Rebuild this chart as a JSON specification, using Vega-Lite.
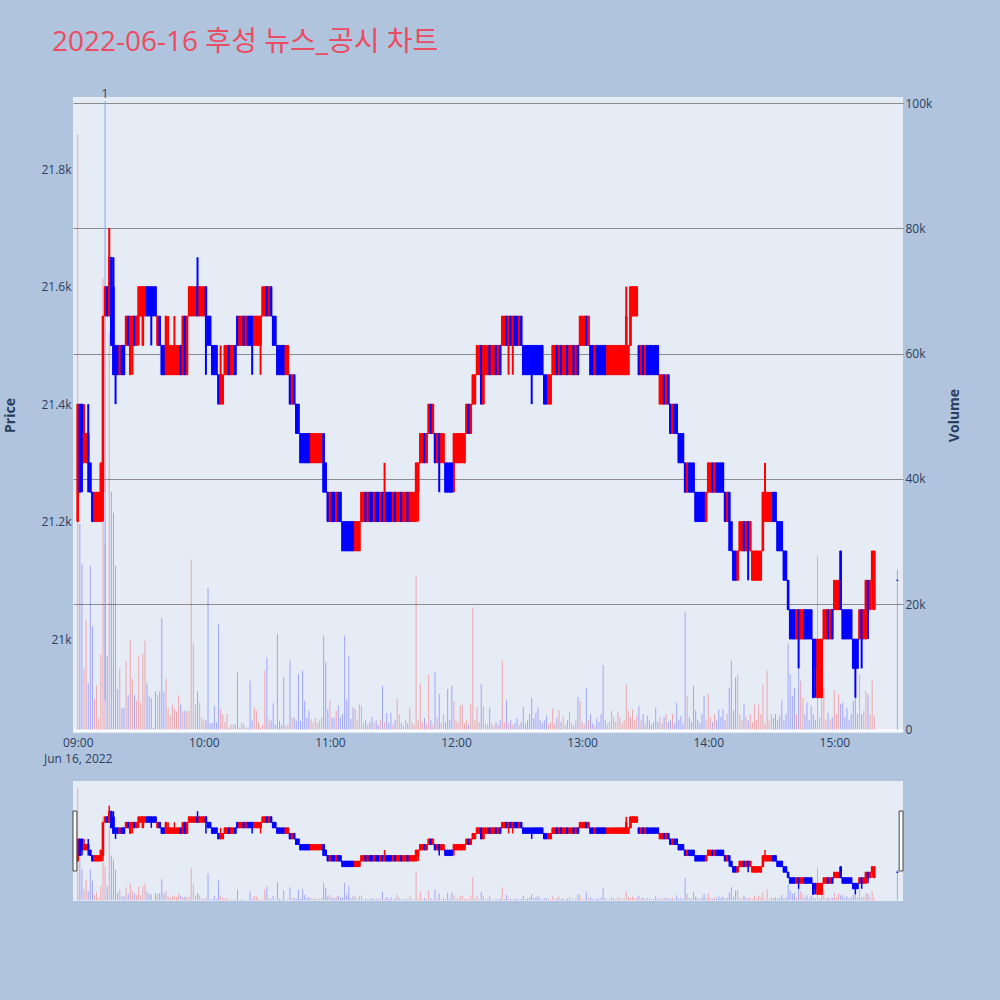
{
"$schema": "https://vega.github.io/schema/vega-lite/v6.json",
"background": "#b0c4de",
"padding": {"left": 3, "top": 29, "right": 45, "bottom": 105},
"title": {"text": "2022-06-16 후성 뉴스_공시 차트", "anchor": "start", "frame": "group", "dx": -21, "offset": 31, "fontSize": 28, "font": "Open Sans, Noto Sans CJK KR", "fontWeight": "normal", "color": "#ea4c63"},
"data": {"format": {"parse": {"t": "date:'%H:%M'"}}, "values": [
{"t":"09:00","o":21200,"h":21400,"l":21200,"c":21400,"v":95000},
{"t":"09:01","o":21400,"h":21400,"l":21250,"c":21250,"v":32800},
{"t":"09:02","o":21400,"h":21400,"l":21250,"c":21300,"v":26400},
{"t":"09:03","o":21300,"h":21400,"l":21300,"c":21350,"v":9700},
{"t":"09:04","o":21300,"h":21350,"l":21300,"c":21350,"v":17500},
{"t":"09:05","o":21350,"h":21400,"l":21250,"c":21300,"v":7400},
{"t":"09:06","o":21300,"h":21300,"l":21250,"c":21250,"v":26100},
{"t":"09:07","o":21250,"h":21250,"l":21200,"c":21200,"v":16500},
{"t":"09:08","o":21200,"h":21250,"l":21200,"c":21250,"v":4900},
{"t":"09:09","o":21200,"h":21250,"l":21200,"c":21250,"v":7100},
{"t":"09:10","o":21200,"h":21250,"l":21200,"c":21250,"v":1800},
{"t":"09:11","o":21200,"h":21300,"l":21200,"c":21300,"v":12000},
{"t":"09:12","o":21250,"h":21550,"l":21200,"c":21550,"v":72000},
{"t":"09:13","o":21550,"h":21600,"l":21550,"c":21600,"v":29400},
{"t":"09:14","o":21600,"h":21600,"l":21550,"c":21550,"v":11800},
{"t":"09:15","o":21550,"h":21700,"l":21550,"c":21650,"v":63400},
{"t":"09:16","o":21650,"h":21650,"l":21500,"c":21500,"v":38000},
{"t":"09:17","o":21600,"h":21650,"l":21450,"c":21450,"v":34600},
{"t":"09:18","o":21500,"h":21500,"l":21400,"c":21450,"v":26200},
{"t":"09:19","o":21500,"h":21500,"l":21450,"c":21450,"v":6500},
{"t":"09:20","o":21450,"h":21500,"l":21450,"c":21500,"v":9700},
{"t":"09:21","o":21500,"h":21500,"l":21450,"c":21450,"v":3400},
{"t":"09:22","o":21500,"h":21500,"l":21450,"c":21450,"v":3400},
{"t":"09:23","o":21500,"h":21550,"l":21500,"c":21550,"v":10900},
{"t":"09:24","o":21550,"h":21550,"l":21500,"c":21500,"v":5500},
{"t":"09:25","o":21450,"h":21550,"l":21450,"c":21550,"v":14300},
{"t":"09:26","o":21500,"h":21550,"l":21450,"c":21550,"v":8100},
{"t":"09:27","o":21550,"h":21550,"l":21500,"c":21500,"v":5500},
{"t":"09:28","o":21500,"h":21550,"l":21500,"c":21550,"v":4600},
{"t":"09:29","o":21550,"h":21600,"l":21500,"c":21600,"v":11800},
{"t":"09:30","o":21550,"h":21600,"l":21550,"c":21600,"v":4300},
{"t":"09:31","o":21500,"h":21600,"l":21500,"c":21600,"v":12100},
{"t":"09:32","o":21550,"h":21600,"l":21550,"c":21600,"v":14200},
{"t":"09:33","o":21600,"h":21600,"l":21550,"c":21550,"v":7400},
{"t":"09:34","o":21600,"h":21600,"l":21550,"c":21550,"v":5300},
{"t":"09:35","o":21600,"h":21600,"l":21500,"c":21550,"v":5000},
{"t":"09:36","o":21600,"h":21600,"l":21550,"c":21550,"v":300},
{"t":"09:37","o":21600,"h":21600,"l":21550,"c":21550,"v":6100},
{"t":"09:38","o":21500,"h":21550,"l":21500,"c":21550,"v":5500},
{"t":"09:39","o":21550,"h":21550,"l":21500,"c":21500,"v":6100},
{"t":"09:40","o":21500,"h":21500,"l":21450,"c":21450,"v":17800},
{"t":"09:41","o":21500,"h":21500,"l":21450,"c":21450,"v":6100},
{"t":"09:42","o":21450,"h":21550,"l":21450,"c":21550,"v":8100},
{"t":"09:43","o":21450,"h":21550,"l":21450,"c":21500,"v":3400},
{"t":"09:44","o":21450,"h":21500,"l":21450,"c":21500,"v":2300},
{"t":"09:45","o":21450,"h":21500,"l":21450,"c":21500,"v":4000},
{"t":"09:46","o":21450,"h":21550,"l":21450,"c":21500,"v":3400},
{"t":"09:47","o":21450,"h":21500,"l":21450,"c":21500,"v":2900},
{"t":"09:48","o":21450,"h":21500,"l":21450,"c":21500,"v":5500},
{"t":"09:49","o":21500,"h":21500,"l":21450,"c":21450,"v":4000},
{"t":"09:50","o":21450,"h":21550,"l":21450,"c":21550,"v":2900},
{"t":"09:51","o":21550,"h":21550,"l":21450,"c":21450,"v":3000},
{"t":"09:52","o":21450,"h":21550,"l":21450,"c":21550,"v":2900},
{"t":"09:53","o":21550,"h":21600,"l":21550,"c":21600,"v":3000},
{"t":"09:54","o":21550,"h":21600,"l":21550,"c":21600,"v":27100},
{"t":"09:55","o":21550,"h":21600,"l":21550,"c":21600,"v":13800},
{"t":"09:56","o":21550,"h":21600,"l":21550,"c":21600,"v":4000},
{"t":"09:57","o":21600,"h":21650,"l":21550,"c":21550,"v":6100},
{"t":"09:58","o":21550,"h":21600,"l":21550,"c":21600,"v":4300},
{"t":"09:59","o":21550,"h":21600,"l":21550,"c":21600,"v":1800},
{"t":"10:00","o":21550,"h":21600,"l":21550,"c":21600,"v":1400},
{"t":"10:01","o":21600,"h":21600,"l":21450,"c":21550,"v":1500},
{"t":"10:02","o":21550,"h":21550,"l":21500,"c":21500,"v":22600},
{"t":"10:03","o":21550,"h":21550,"l":21500,"c":21500,"v":1000},
{"t":"10:04","o":21500,"h":21500,"l":21450,"c":21450,"v":1000},
{"t":"10:05","o":21500,"h":21500,"l":21450,"c":21450,"v":3800},
{"t":"10:06","o":21500,"h":21500,"l":21450,"c":21450,"v":1200},
{"t":"10:07","o":21450,"h":21450,"l":21400,"c":21400,"v":16800},
{"t":"10:08","o":21400,"h":21500,"l":21400,"c":21450,"v":3300},
{"t":"10:09","o":21400,"h":21450,"l":21400,"c":21450,"v":2500},
{"t":"10:10","o":21450,"h":21500,"l":21450,"c":21500,"v":1200},
{"t":"10:11","o":21450,"h":21500,"l":21450,"c":21500,"v":2500},
{"t":"10:12","o":21500,"h":21500,"l":21450,"c":21450,"v":300},
{"t":"10:13","o":21450,"h":21500,"l":21450,"c":21500,"v":800},
{"t":"10:14","o":21450,"h":21500,"l":21450,"c":21500,"v":800},
{"t":"10:15","o":21500,"h":21500,"l":21450,"c":21450,"v":800},
{"t":"10:16","o":21550,"h":21550,"l":21500,"c":21500,"v":9100},
{"t":"10:17","o":21500,"h":21550,"l":21500,"c":21550,"v":300},
{"t":"10:18","o":21500,"h":21550,"l":21500,"c":21550,"v":1100},
{"t":"10:19","o":21550,"h":21550,"l":21500,"c":21500,"v":800},
{"t":"10:20","o":21500,"h":21550,"l":21500,"c":21550,"v":300},
{"t":"10:21","o":21550,"h":21550,"l":21500,"c":21500,"v":300},
{"t":"10:22","o":21550,"h":21550,"l":21500,"c":21500,"v":7800},
{"t":"10:23","o":21550,"h":21550,"l":21450,"c":21500,"v":1400},
{"t":"10:24","o":21500,"h":21550,"l":21500,"c":21550,"v":3600},
{"t":"10:25","o":21500,"h":21550,"l":21500,"c":21550,"v":3000},
{"t":"10:26","o":21500,"h":21550,"l":21500,"c":21550,"v":1200},
{"t":"10:27","o":21500,"h":21550,"l":21450,"c":21550,"v":300},
{"t":"10:28","o":21550,"h":21600,"l":21550,"c":21600,"v":800},
{"t":"10:29","o":21550,"h":21600,"l":21550,"c":21600,"v":9400},
{"t":"10:30","o":21600,"h":21600,"l":21550,"c":21550,"v":11500},
{"t":"10:31","o":21550,"h":21600,"l":21550,"c":21600,"v":1700},
{"t":"10:32","o":21600,"h":21600,"l":21550,"c":21550,"v":1400},
{"t":"10:33","o":21550,"h":21550,"l":21500,"c":21500,"v":4200},
{"t":"10:34","o":21550,"h":21550,"l":21500,"c":21500,"v":800},
{"t":"10:35","o":21500,"h":21500,"l":21450,"c":21450,"v":15300},
{"t":"10:36","o":21500,"h":21500,"l":21450,"c":21450,"v":1400},
{"t":"10:37","o":21500,"h":21500,"l":21450,"c":21450,"v":800},
{"t":"10:38","o":21500,"h":21500,"l":21450,"c":21450,"v":8400},
{"t":"10:39","o":21450,"h":21500,"l":21450,"c":21500,"v":600},
{"t":"10:40","o":21450,"h":21500,"l":21450,"c":21500,"v":800},
{"t":"10:41","o":21450,"h":21450,"l":21400,"c":21400,"v":11000},
{"t":"10:42","o":21400,"h":21450,"l":21400,"c":21450,"v":1900},
{"t":"10:43","o":21450,"h":21450,"l":21400,"c":21400,"v":1900},
{"t":"10:44","o":21400,"h":21400,"l":21350,"c":21350,"v":1400},
{"t":"10:45","o":21400,"h":21400,"l":21350,"c":21350,"v":8900},
{"t":"10:46","o":21350,"h":21350,"l":21300,"c":21300,"v":1400},
{"t":"10:47","o":21350,"h":21350,"l":21300,"c":21300,"v":9400},
{"t":"10:48","o":21350,"h":21350,"l":21300,"c":21300,"v":4600},
{"t":"10:49","o":21350,"h":21350,"l":21300,"c":21300,"v":1900},
{"t":"10:50","o":21350,"h":21350,"l":21300,"c":21300,"v":3000},
{"t":"10:51","o":21300,"h":21350,"l":21300,"c":21350,"v":1700},
{"t":"10:52","o":21300,"h":21350,"l":21300,"c":21350,"v":1100},
{"t":"10:53","o":21300,"h":21350,"l":21300,"c":21350,"v":1900},
{"t":"10:54","o":21300,"h":21350,"l":21300,"c":21350,"v":1100},
{"t":"10:55","o":21300,"h":21350,"l":21300,"c":21350,"v":1400},
{"t":"10:56","o":21300,"h":21350,"l":21300,"c":21350,"v":1900},
{"t":"10:57","o":21350,"h":21350,"l":21250,"c":21250,"v":14900},
{"t":"10:58","o":21300,"h":21300,"l":21250,"c":21250,"v":10700},
{"t":"10:59","o":21250,"h":21250,"l":21200,"c":21200,"v":3200},
{"t":"11:00","o":21200,"h":21250,"l":21200,"c":21250,"v":4600},
{"t":"11:01","o":21250,"h":21250,"l":21200,"c":21200,"v":1900},
{"t":"11:02","o":21250,"h":21250,"l":21200,"c":21200,"v":1900},
{"t":"11:03","o":21200,"h":21250,"l":21200,"c":21250,"v":3000},
{"t":"11:04","o":21250,"h":21250,"l":21200,"c":21200,"v":3800},
{"t":"11:05","o":21250,"h":21250,"l":21200,"c":21200,"v":1900},
{"t":"11:06","o":21200,"h":21200,"l":21150,"c":21150,"v":2500},
{"t":"11:07","o":21200,"h":21200,"l":21150,"c":21150,"v":15000},
{"t":"11:08","o":21200,"h":21200,"l":21150,"c":21150,"v":4800},
{"t":"11:09","o":21200,"h":21200,"l":21150,"c":21150,"v":11800},
{"t":"11:10","o":21200,"h":21200,"l":21150,"c":21150,"v":1700},
{"t":"11:11","o":21200,"h":21200,"l":21150,"c":21150,"v":3500},
{"t":"11:12","o":21150,"h":21200,"l":21150,"c":21200,"v":3300},
{"t":"11:13","o":21150,"h":21200,"l":21150,"c":21200,"v":1500},
{"t":"11:14","o":21150,"h":21200,"l":21150,"c":21200,"v":4000},
{"t":"11:15","o":21200,"h":21250,"l":21200,"c":21250,"v":3800},
{"t":"11:16","o":21200,"h":21250,"l":21200,"c":21250,"v":1000},
{"t":"11:17","o":21250,"h":21250,"l":21200,"c":21200,"v":1500},
{"t":"11:18","o":21200,"h":21250,"l":21200,"c":21250,"v":800},
{"t":"11:19","o":21250,"h":21250,"l":21200,"c":21200,"v":1200},
{"t":"11:20","o":21250,"h":21250,"l":21200,"c":21200,"v":2000},
{"t":"11:21","o":21200,"h":21250,"l":21200,"c":21250,"v":1000},
{"t":"11:22","o":21250,"h":21250,"l":21200,"c":21200,"v":1500},
{"t":"11:23","o":21250,"h":21250,"l":21200,"c":21200,"v":700},
{"t":"11:24","o":21200,"h":21250,"l":21200,"c":21250,"v":1500},
{"t":"11:25","o":21250,"h":21250,"l":21200,"c":21200,"v":7000},
{"t":"11:26","o":21200,"h":21300,"l":21200,"c":21250,"v":1200},
{"t":"11:27","o":21250,"h":21250,"l":21200,"c":21200,"v":2700},
{"t":"11:28","o":21250,"h":21250,"l":21200,"c":21200,"v":1000},
{"t":"11:29","o":21250,"h":21250,"l":21200,"c":21200,"v":2700},
{"t":"11:30","o":21200,"h":21250,"l":21200,"c":21250,"v":800},
{"t":"11:31","o":21250,"h":21250,"l":21200,"c":21200,"v":1500},
{"t":"11:32","o":21200,"h":21250,"l":21200,"c":21250,"v":5000},
{"t":"11:33","o":21200,"h":21250,"l":21200,"c":21250,"v":2400},
{"t":"11:34","o":21250,"h":21250,"l":21200,"c":21200,"v":1000},
{"t":"11:35","o":21200,"h":21250,"l":21200,"c":21250,"v":600},
{"t":"11:36","o":21200,"h":21250,"l":21200,"c":21250,"v":1500},
{"t":"11:37","o":21250,"h":21250,"l":21200,"c":21200,"v":1000},
{"t":"11:38","o":21200,"h":21250,"l":21200,"c":21250,"v":3500},
{"t":"11:39","o":21200,"h":21250,"l":21200,"c":21250,"v":1200},
{"t":"11:40","o":21200,"h":21250,"l":21200,"c":21250,"v":800},
{"t":"11:41","o":21200,"h":21300,"l":21200,"c":21300,"v":24500},
{"t":"11:42","o":21250,"h":21300,"l":21200,"c":21300,"v":1500},
{"t":"11:43","o":21300,"h":21350,"l":21300,"c":21350,"v":7300},
{"t":"11:44","o":21300,"h":21350,"l":21300,"c":21350,"v":1200},
{"t":"11:45","o":21350,"h":21350,"l":21300,"c":21300,"v":1800},
{"t":"11:46","o":21300,"h":21350,"l":21300,"c":21350,"v":1000},
{"t":"11:47","o":21350,"h":21400,"l":21350,"c":21400,"v":8800},
{"t":"11:48","o":21400,"h":21400,"l":21350,"c":21350,"v":1500},
{"t":"11:49","o":21350,"h":21400,"l":21350,"c":21400,"v":800},
{"t":"11:50","o":21350,"h":21350,"l":21300,"c":21300,"v":9200},
{"t":"11:51","o":21300,"h":21350,"l":21300,"c":21350,"v":1800},
{"t":"11:52","o":21350,"h":21350,"l":21250,"c":21300,"v":5700},
{"t":"11:53","o":21300,"h":21350,"l":21300,"c":21350,"v":1000},
{"t":"11:54","o":21300,"h":21350,"l":21300,"c":21350,"v":2500},
{"t":"11:55","o":21300,"h":21300,"l":21250,"c":21250,"v":1200},
{"t":"11:56","o":21300,"h":21300,"l":21250,"c":21250,"v":6500},
{"t":"11:57","o":21300,"h":21300,"l":21250,"c":21250,"v":1500},
{"t":"11:58","o":21300,"h":21300,"l":21250,"c":21250,"v":7000},
{"t":"11:59","o":21300,"h":21350,"l":21250,"c":21350,"v":4500},
{"t":"12:00","o":21300,"h":21350,"l":21300,"c":21350,"v":1400},
{"t":"12:01","o":21300,"h":21350,"l":21300,"c":21350,"v":1200},
{"t":"12:02","o":21300,"h":21350,"l":21300,"c":21350,"v":3800},
{"t":"12:03","o":21300,"h":21350,"l":21300,"c":21350,"v":4000},
{"t":"12:04","o":21300,"h":21350,"l":21300,"c":21350,"v":1000},
{"t":"12:05","o":21350,"h":21400,"l":21350,"c":21400,"v":1500},
{"t":"12:06","o":21400,"h":21400,"l":21350,"c":21350,"v":800},
{"t":"12:07","o":21350,"h":21400,"l":21350,"c":21400,"v":4100},
{"t":"12:08","o":21400,"h":21450,"l":21400,"c":21450,"v":19500},
{"t":"12:09","o":21400,"h":21450,"l":21400,"c":21450,"v":1500},
{"t":"12:10","o":21450,"h":21500,"l":21450,"c":21500,"v":3700},
{"t":"12:11","o":21450,"h":21500,"l":21450,"c":21500,"v":1200},
{"t":"12:12","o":21500,"h":21500,"l":21400,"c":21400,"v":7200},
{"t":"12:13","o":21400,"h":21500,"l":21400,"c":21500,"v":3700},
{"t":"12:14","o":21450,"h":21500,"l":21450,"c":21500,"v":1000},
{"t":"12:15","o":21450,"h":21500,"l":21450,"c":21500,"v":800},
{"t":"12:16","o":21500,"h":21500,"l":21450,"c":21450,"v":3500},
{"t":"12:17","o":21450,"h":21500,"l":21450,"c":21500,"v":1000},
{"t":"12:18","o":21450,"h":21500,"l":21450,"c":21500,"v":600},
{"t":"12:19","o":21500,"h":21500,"l":21450,"c":21450,"v":1200},
{"t":"12:20","o":21450,"h":21500,"l":21450,"c":21500,"v":700},
{"t":"12:21","o":21500,"h":21500,"l":21450,"c":21450,"v":1500},
{"t":"12:22","o":21500,"h":21550,"l":21500,"c":21550,"v":11000},
{"t":"12:23","o":21500,"h":21550,"l":21500,"c":21550,"v":1200},
{"t":"12:24","o":21550,"h":21550,"l":21500,"c":21500,"v":4600},
{"t":"12:25","o":21500,"h":21550,"l":21450,"c":21550,"v":1000},
{"t":"12:26","o":21550,"h":21550,"l":21500,"c":21500,"v":1500},
{"t":"12:27","o":21500,"h":21550,"l":21450,"c":21550,"v":800},
{"t":"12:28","o":21550,"h":21550,"l":21500,"c":21500,"v":1000},
{"t":"12:29","o":21550,"h":21550,"l":21500,"c":21500,"v":1800},
{"t":"12:30","o":21500,"h":21550,"l":21500,"c":21550,"v":700},
{"t":"12:31","o":21550,"h":21550,"l":21500,"c":21500,"v":1200},
{"t":"12:32","o":21500,"h":21500,"l":21450,"c":21450,"v":3600},
{"t":"12:33","o":21500,"h":21500,"l":21450,"c":21450,"v":1000},
{"t":"12:34","o":21500,"h":21500,"l":21450,"c":21450,"v":1500},
{"t":"12:35","o":21500,"h":21500,"l":21450,"c":21450,"v":2500},
{"t":"12:36","o":21500,"h":21500,"l":21400,"c":21450,"v":5100},
{"t":"12:37","o":21500,"h":21500,"l":21450,"c":21450,"v":1800},
{"t":"12:38","o":21500,"h":21500,"l":21450,"c":21450,"v":2700},
{"t":"12:39","o":21500,"h":21500,"l":21450,"c":21450,"v":3500},
{"t":"12:40","o":21500,"h":21500,"l":21450,"c":21450,"v":1500},
{"t":"12:41","o":21500,"h":21500,"l":21450,"c":21450,"v":1000},
{"t":"12:42","o":21450,"h":21450,"l":21400,"c":21400,"v":1500},
{"t":"12:43","o":21450,"h":21450,"l":21400,"c":21400,"v":2200},
{"t":"12:44","o":21400,"h":21450,"l":21400,"c":21450,"v":800},
{"t":"12:45","o":21400,"h":21450,"l":21400,"c":21450,"v":1200},
{"t":"12:46","o":21450,"h":21500,"l":21450,"c":21500,"v":3400},
{"t":"12:47","o":21450,"h":21500,"l":21450,"c":21500,"v":1000},
{"t":"12:48","o":21500,"h":21500,"l":21450,"c":21450,"v":1800},
{"t":"12:49","o":21450,"h":21500,"l":21450,"c":21500,"v":3100},
{"t":"12:50","o":21500,"h":21500,"l":21450,"c":21450,"v":1200},
{"t":"12:51","o":21450,"h":21500,"l":21450,"c":21500,"v":2000},
{"t":"12:52","o":21450,"h":21500,"l":21450,"c":21500,"v":800},
{"t":"12:53","o":21500,"h":21500,"l":21450,"c":21450,"v":1500},
{"t":"12:54","o":21450,"h":21500,"l":21450,"c":21500,"v":2800},
{"t":"12:55","o":21450,"h":21500,"l":21450,"c":21500,"v":1000},
{"t":"12:56","o":21500,"h":21500,"l":21450,"c":21450,"v":600},
{"t":"12:57","o":21450,"h":21500,"l":21450,"c":21500,"v":1500},
{"t":"12:58","o":21500,"h":21500,"l":21450,"c":21450,"v":5200},
{"t":"12:59","o":21500,"h":21550,"l":21500,"c":21550,"v":4600},
{"t":"13:00","o":21500,"h":21550,"l":21500,"c":21550,"v":1200},
{"t":"13:01","o":21500,"h":21550,"l":21500,"c":21550,"v":800},
{"t":"13:02","o":21550,"h":21550,"l":21500,"c":21500,"v":6600},
{"t":"13:03","o":21500,"h":21550,"l":21500,"c":21550,"v":1500},
{"t":"13:04","o":21500,"h":21500,"l":21450,"c":21450,"v":2500},
{"t":"13:05","o":21500,"h":21500,"l":21450,"c":21450,"v":1000},
{"t":"13:06","o":21450,"h":21500,"l":21450,"c":21500,"v":600},
{"t":"13:07","o":21500,"h":21500,"l":21450,"c":21450,"v":1800},
{"t":"13:08","o":21500,"h":21500,"l":21450,"c":21450,"v":1200},
{"t":"13:09","o":21500,"h":21500,"l":21450,"c":21450,"v":2500},
{"t":"13:10","o":21500,"h":21500,"l":21450,"c":21450,"v":10300},
{"t":"13:11","o":21500,"h":21500,"l":21450,"c":21450,"v":1500},
{"t":"13:12","o":21450,"h":21500,"l":21450,"c":21500,"v":800},
{"t":"13:13","o":21450,"h":21500,"l":21450,"c":21500,"v":1200},
{"t":"13:14","o":21450,"h":21500,"l":21450,"c":21500,"v":3000},
{"t":"13:15","o":21450,"h":21500,"l":21450,"c":21500,"v":2000},
{"t":"13:16","o":21450,"h":21500,"l":21450,"c":21500,"v":1200},
{"t":"13:17","o":21450,"h":21500,"l":21450,"c":21500,"v":2800},
{"t":"13:18","o":21450,"h":21500,"l":21450,"c":21500,"v":2000},
{"t":"13:19","o":21450,"h":21500,"l":21450,"c":21500,"v":1000},
{"t":"13:20","o":21450,"h":21500,"l":21450,"c":21500,"v":1500},
{"t":"13:21","o":21450,"h":21600,"l":21450,"c":21550,"v":7200},
{"t":"13:22","o":21450,"h":21500,"l":21450,"c":21500,"v":3000},
{"t":"13:23","o":21500,"h":21600,"l":21500,"c":21600,"v":2000},
{"t":"13:24","o":21550,"h":21600,"l":21550,"c":21600,"v":3200},
{"t":"13:25","o":21550,"h":21600,"l":21550,"c":21600,"v":1500},
{"t":"13:26","o":21550,"h":21600,"l":21550,"c":21600,"v":2200},
{"t":"13:27","o":21500,"h":21500,"l":21450,"c":21450,"v":3800},
{"t":"13:28","o":21450,"h":21500,"l":21450,"c":21500,"v":1500},
{"t":"13:29","o":21500,"h":21500,"l":21450,"c":21450,"v":2500},
{"t":"13:30","o":21450,"h":21500,"l":21450,"c":21500,"v":1000},
{"t":"13:31","o":21500,"h":21500,"l":21450,"c":21450,"v":2200},
{"t":"13:32","o":21500,"h":21500,"l":21450,"c":21450,"v":1500},
{"t":"13:33","o":21500,"h":21500,"l":21450,"c":21450,"v":800},
{"t":"13:34","o":21500,"h":21500,"l":21450,"c":21450,"v":1200},
{"t":"13:35","o":21500,"h":21500,"l":21450,"c":21450,"v":3500},
{"t":"13:36","o":21500,"h":21500,"l":21450,"c":21450,"v":1200},
{"t":"13:37","o":21400,"h":21450,"l":21400,"c":21450,"v":2000},
{"t":"13:38","o":21400,"h":21450,"l":21400,"c":21450,"v":1000},
{"t":"13:39","o":21450,"h":21450,"l":21400,"c":21400,"v":2000},
{"t":"13:40","o":21400,"h":21450,"l":21400,"c":21450,"v":2500},
{"t":"13:41","o":21450,"h":21450,"l":21400,"c":21400,"v":1200},
{"t":"13:42","o":21400,"h":21400,"l":21350,"c":21350,"v":1500},
{"t":"13:43","o":21350,"h":21400,"l":21350,"c":21400,"v":2500},
{"t":"13:44","o":21400,"h":21400,"l":21350,"c":21350,"v":1000},
{"t":"13:45","o":21400,"h":21400,"l":21350,"c":21350,"v":4300},
{"t":"13:46","o":21350,"h":21350,"l":21300,"c":21300,"v":1500},
{"t":"13:47","o":21350,"h":21350,"l":21300,"c":21300,"v":2200},
{"t":"13:48","o":21350,"h":21350,"l":21300,"c":21300,"v":1000},
{"t":"13:49","o":21300,"h":21300,"l":21250,"c":21250,"v":18800},
{"t":"13:50","o":21250,"h":21300,"l":21250,"c":21300,"v":5400},
{"t":"13:51","o":21300,"h":21300,"l":21250,"c":21250,"v":2000},
{"t":"13:52","o":21300,"h":21300,"l":21250,"c":21250,"v":1200},
{"t":"13:53","o":21300,"h":21300,"l":21250,"c":21250,"v":7000},
{"t":"13:54","o":21250,"h":21250,"l":21200,"c":21200,"v":3000},
{"t":"13:55","o":21250,"h":21250,"l":21200,"c":21200,"v":1500},
{"t":"13:56","o":21250,"h":21250,"l":21200,"c":21200,"v":1000},
{"t":"13:57","o":21250,"h":21250,"l":21200,"c":21200,"v":2500},
{"t":"13:58","o":21250,"h":21250,"l":21200,"c":21200,"v":5400},
{"t":"13:59","o":21200,"h":21250,"l":21200,"c":21250,"v":1500},
{"t":"14:00","o":21250,"h":21300,"l":21250,"c":21300,"v":5700},
{"t":"14:01","o":21250,"h":21300,"l":21250,"c":21300,"v":2000},
{"t":"14:02","o":21300,"h":21300,"l":21250,"c":21250,"v":1200},
{"t":"14:03","o":21250,"h":21300,"l":21250,"c":21300,"v":2500},
{"t":"14:04","o":21300,"h":21300,"l":21250,"c":21250,"v":1500},
{"t":"14:05","o":21300,"h":21300,"l":21250,"c":21250,"v":3200},
{"t":"14:06","o":21300,"h":21300,"l":21250,"c":21250,"v":2000},
{"t":"14:07","o":21300,"h":21300,"l":21250,"c":21250,"v":3200},
{"t":"14:08","o":21250,"h":21250,"l":21200,"c":21200,"v":1500},
{"t":"14:09","o":21200,"h":21250,"l":21200,"c":21250,"v":2500},
{"t":"14:10","o":21250,"h":21250,"l":21150,"c":21200,"v":6700},
{"t":"14:11","o":21200,"h":21200,"l":21150,"c":21150,"v":11000},
{"t":"14:12","o":21150,"h":21150,"l":21100,"c":21100,"v":3000},
{"t":"14:13","o":21150,"h":21150,"l":21100,"c":21100,"v":8300},
{"t":"14:14","o":21100,"h":21150,"l":21100,"c":21150,"v":8800},
{"t":"14:15","o":21150,"h":21200,"l":21150,"c":21200,"v":2500},
{"t":"14:16","o":21150,"h":21200,"l":21150,"c":21200,"v":1500},
{"t":"14:17","o":21200,"h":21200,"l":21150,"c":21150,"v":4000},
{"t":"14:18","o":21150,"h":21200,"l":21150,"c":21200,"v":2000},
{"t":"14:19","o":21200,"h":21200,"l":21100,"c":21150,"v":1500},
{"t":"14:20","o":21150,"h":21200,"l":21150,"c":21200,"v":2500},
{"t":"14:21","o":21100,"h":21150,"l":21100,"c":21150,"v":1200},
{"t":"14:22","o":21100,"h":21150,"l":21100,"c":21150,"v":4000},
{"t":"14:23","o":21100,"h":21150,"l":21100,"c":21150,"v":1500},
{"t":"14:24","o":21100,"h":21150,"l":21100,"c":21150,"v":4000},
{"t":"14:25","o":21100,"h":21150,"l":21100,"c":21150,"v":2500},
{"t":"14:26","o":21150,"h":21250,"l":21150,"c":21250,"v":7100},
{"t":"14:27","o":21200,"h":21300,"l":21200,"c":21250,"v":1000},
{"t":"14:28","o":21200,"h":21250,"l":21200,"c":21250,"v":9400},
{"t":"14:29","o":21200,"h":21250,"l":21200,"c":21250,"v":1400},
{"t":"14:30","o":21200,"h":21250,"l":21200,"c":21250,"v":2500},
{"t":"14:31","o":21250,"h":21250,"l":21200,"c":21200,"v":1800},
{"t":"14:32","o":21250,"h":21250,"l":21200,"c":21200,"v":2500},
{"t":"14:33","o":21200,"h":21200,"l":21150,"c":21150,"v":1500},
{"t":"14:34","o":21200,"h":21200,"l":21150,"c":21150,"v":2200},
{"t":"14:35","o":21200,"h":21200,"l":21150,"c":21150,"v":4600},
{"t":"14:36","o":21150,"h":21150,"l":21100,"c":21100,"v":1500},
{"t":"14:37","o":21150,"h":21150,"l":21100,"c":21100,"v":2500},
{"t":"14:38","o":21100,"h":21100,"l":21050,"c":21050,"v":13700},
{"t":"14:39","o":21050,"h":21050,"l":21000,"c":21000,"v":8800},
{"t":"14:40","o":21050,"h":21050,"l":21000,"c":21000,"v":5400},
{"t":"14:41","o":21050,"h":21050,"l":21000,"c":21000,"v":6700},
{"t":"14:42","o":21000,"h":21050,"l":21000,"c":21050,"v":2500},
{"t":"14:43","o":21050,"h":21050,"l":20950,"c":21000,"v":10000},
{"t":"14:44","o":21000,"h":21050,"l":21000,"c":21050,"v":7800},
{"t":"14:45","o":21000,"h":21050,"l":21000,"c":21050,"v":5100},
{"t":"14:46","o":21050,"h":21050,"l":21000,"c":21000,"v":2500},
{"t":"14:47","o":21050,"h":21050,"l":21000,"c":21000,"v":4300},
{"t":"14:48","o":21050,"h":21050,"l":21000,"c":21000,"v":1500},
{"t":"14:49","o":21050,"h":21050,"l":21000,"c":21000,"v":3800},
{"t":"14:50","o":21000,"h":21000,"l":20900,"c":20900,"v":2500},
{"t":"14:51","o":21000,"h":21000,"l":20900,"c":20950,"v":1500},
{"t":"14:52","o":20900,"h":21000,"l":20900,"c":21000,"v":27600},
{"t":"14:53","o":20900,"h":21000,"l":20900,"c":21000,"v":2000},
{"t":"14:54","o":20900,"h":21000,"l":20900,"c":21000,"v":5100},
{"t":"14:55","o":21000,"h":21050,"l":21000,"c":21050,"v":6700},
{"t":"14:56","o":21000,"h":21050,"l":21000,"c":21050,"v":1500},
{"t":"14:57","o":21050,"h":21050,"l":21000,"c":21000,"v":2700},
{"t":"14:58","o":21000,"h":21050,"l":21000,"c":21050,"v":1500},
{"t":"14:59","o":21050,"h":21050,"l":21000,"c":21000,"v":2000},
{"t":"15:00","o":21050,"h":21100,"l":21050,"c":21100,"v":6300},
{"t":"15:01","o":21050,"h":21100,"l":21050,"c":21100,"v":2500},
{"t":"15:02","o":21050,"h":21100,"l":21050,"c":21100,"v":5600},
{"t":"15:03","o":21150,"h":21150,"l":21050,"c":21050,"v":4100},
{"t":"15:04","o":21050,"h":21050,"l":21000,"c":21000,"v":4300},
{"t":"15:05","o":21050,"h":21050,"l":21000,"c":21000,"v":2000},
{"t":"15:06","o":21050,"h":21050,"l":21000,"c":21000,"v":3500},
{"t":"15:07","o":21050,"h":21050,"l":21000,"c":21000,"v":1500},
{"t":"15:08","o":21050,"h":21050,"l":21000,"c":21000,"v":2500},
{"t":"15:09","o":21000,"h":21000,"l":20950,"c":20950,"v":4600},
{"t":"15:10","o":21000,"h":21000,"l":20900,"c":20950,"v":5100},
{"t":"15:11","o":21000,"h":21000,"l":20950,"c":20950,"v":2500},
{"t":"15:12","o":21000,"h":21050,"l":21000,"c":21050,"v":8800},
{"t":"15:13","o":21050,"h":21050,"l":20950,"c":21000,"v":2500},
{"t":"15:14","o":21000,"h":21050,"l":21000,"c":21050,"v":3000},
{"t":"15:15","o":21000,"h":21100,"l":21000,"c":21100,"v":6200},
{"t":"15:16","o":21100,"h":21100,"l":21000,"c":21050,"v":5600},
{"t":"15:17","o":21050,"h":21100,"l":21050,"c":21100,"v":2500},
{"t":"15:18","o":21100,"h":21150,"l":21050,"c":21150,"v":7800},
{"t":"15:19","o":21050,"h":21150,"l":21050,"c":21150,"v":2000},
{"t":"15:30","o":21100,"h":21100,"l":21100,"c":21100,"v":25600}
]},
"vconcat": [
{
"width": 830, "height": 636,
"layer": [
{
"mark": {"type": "bar", "size": 1, "opacity": 0.3},
"encoding": {
"x": {"field": "t", "type": "temporal", "scale": {"nice": false, "padding": 0, "domain": [{"year":1900,"month":1,"date":1,"hours":8,"minutes":57,"seconds":45},{"year":1900,"month":1,"date":1,"hours":15,"minutes":32,"seconds":40}]},
"axis": {"title": null, "grid": false, "tickSize": 0, "labelPadding": 4, "labelLineHeight": 16, "labelFlush": false, "values": [{"year":1900,"month":1,"date":1,"hours":9},{"year":1900,"month":1,"date":1,"hours":10},{"year":1900,"month":1,"date":1,"hours":11},{"year":1900,"month":1,"date":1,"hours":12},{"year":1900,"month":1,"date":1,"hours":13},{"year":1900,"month":1,"date":1,"hours":14},{"year":1900,"month":1,"date":1,"hours":15}],
"labelExpr": "hours(datum.value) == 9 ? [timeFormat(datum.value, '%H:%M'), 'Jun 16, 2022'] : timeFormat(datum.value, '%H:%M')"}},
"y": {"field": "v", "type": "quantitative", "scale": {"nice": false, "zero": false, "domain": [-543, 100974]},
"axis": {"orient": "right", "title": "Volume", "values": [0,20000,40000,60000,80000,100000], "labelExpr": "datum.value === 0 ? '0' : (datum.value / 1000) + 'k'", "tickSize": 0, "labelPadding": 2, "gridColor": {"condition": {"test": "datum.value === 0", "value": "#ffffff"}, "value": "#8c8c8c"}, "gridWidth": {"condition": {"test": "datum.value === 0", "value": 2}, "value": 1}, "titleX": 51, "titleAngle": 270, "titleBaseline": "middle", "titleFontWeight": "bold", "titleFontSize": 14}},
"color": {"condition": {"test": "datum.c > datum.o", "value": "#ff0000"}, "value": "#0000ff"}
}
},
{
"layer": [
{
"data": {"values": [{}]},
"mark": {"type": "rule", "color": "#8aa5ee", "strokeWidth": 1},
"encoding": {
"x": {"datum": {"year":1900,"month":1,"date":1,"hours":9,"minutes":13}, "type": "temporal"},
"y": {"datum": 21916, "type": "quantitative", "scale": {"nice": false, "zero": false, "domain": [20840, 21923]},
"axis": {"orient": "left", "title": "Price", "values": [21000,21200,21400,21600,21800], "labelExpr": "(datum.value / 1000) + 'k'", "tickSize": 0, "labelPadding": 2, "gridColor": "#ffffff", "gridWidth": 1, "titleX": -63, "titleAngle": 270, "titleBaseline": "middle", "titleFontWeight": "bold", "titleFontSize": 14}},
"y2": {"datum": 20895}
}
},
{
"mark": {"type": "rule", "strokeWidth": 2},
"encoding": {
"x": {"field": "t", "type": "temporal"},
"y": {"field": "l", "type": "quantitative", "title": "Price"},
"y2": {"field": "h"},
"color": {"condition": {"test": "datum.c > datum.o", "value": "#ff0000"}, "value": "#0000ff"}
}
},
{
"mark": {"type": "bar", "size": 1.6, "strokeWidth": 0.9},
"encoding": {
"x": {"field": "t", "type": "temporal"},
"y": {"field": "o", "type": "quantitative", "title": "Price"},
"y2": {"field": "c"},
"color": {"condition": {"test": "datum.c > datum.o", "value": "#ff0000"}, "value": "#0000ff"},
"stroke": {"condition": {"test": "datum.c > datum.o", "value": "#ff0000"}, "value": "#0000ff"}
}
},
{
"data": {"values": [{"label": "1"}]},
"mark": {"type": "text", "baseline": "bottom", "fontSize": 12, "color": "#2a3f5f"},
"encoding": {
"x": {"datum": {"year":1900,"month":1,"date":1,"hours":9,"minutes":13}, "type": "temporal"},
"y": {"datum": 21916, "type": "quantitative"},
"text": {"field": "label"}
}
}
]
}
],
"resolve": {"scale": {"y": "independent"}}
},
{
"width": 830, "height": 120,
"layer": [
{
"mark": {"type": "bar", "size": 1, "opacity": 0.3},
"encoding": {
"x": {"field": "t", "type": "temporal", "axis": null, "scale": {"nice": false, "padding": 0, "domain": [{"year":1900,"month":1,"date":1,"hours":8,"minutes":57,"seconds":45},{"year":1900,"month":1,"date":1,"hours":15,"minutes":32,"seconds":40}]}},
"y": {"field": "v", "type": "quantitative", "axis": null, "scale": {"nice": false, "zero": false, "domain": [-543, 100974]}},
"color": {"condition": {"test": "datum.c > datum.o", "value": "#ff0000"}, "value": "#0000ff"}
}
},
{
"layer": [
{
"mark": {"type": "rule", "strokeWidth": 1.5},
"encoding": {
"x": {"field": "t", "type": "temporal"},
"y": {"field": "l", "type": "quantitative", "axis": null, "scale": {"nice": false, "zero": false, "domain": [20840, 21923]}},
"y2": {"field": "h"},
"color": {"condition": {"test": "datum.c > datum.o", "value": "#ff0000"}, "value": "#0000ff"}
}
},
{
"mark": {"type": "bar", "size": 1.6, "strokeWidth": 1},
"encoding": {
"x": {"field": "t", "type": "temporal"},
"y": {"field": "o", "type": "quantitative", "axis": null},
"y2": {"field": "c"},
"color": {"condition": {"test": "datum.c > datum.o", "value": "#ff0000"}, "value": "#0000ff"},
"stroke": {"condition": {"test": "datum.c > datum.o", "value": "#ff0000"}, "value": "#0000ff"}
}
},
{
"data": {"values": [{}]},
"mark": {"type": "rect", "fill": "#ffffff", "stroke": "#444444", "strokeWidth": 1},
"encoding": {
"x": {"datum": {"year":1900,"month":1,"date":1,"hours":8,"minutes":57,"seconds":45}, "type": "temporal"},
"x2": {"datum": {"year":1900,"month":1,"date":1,"hours":8,"minutes":59,"seconds":35}},
"y": {"datum": 21652, "type": "quantitative", "axis": null},
"y2": {"datum": 21111}
}
},
{
"data": {"values": [{}]},
"mark": {"type": "rect", "fill": "#ffffff", "stroke": "#444444", "strokeWidth": 1},
"encoding": {
"x": {"datum": {"year":1900,"month":1,"date":1,"hours":15,"minutes":30,"seconds":50}, "type": "temporal"},
"x2": {"datum": {"year":1900,"month":1,"date":1,"hours":15,"minutes":32,"seconds":40}},
"y": {"datum": 21652, "type": "quantitative", "axis": null},
"y2": {"datum": 21111}
}
}
]
}
],
"resolve": {"scale": {"y": "independent"}}
}
],
"spacing": 48,
"bounds": "flush",
"resolve": {"scale": {"x": "independent", "y": "independent"}},
"config": {
"view": {"stroke": null, "fill": "#e5ecf6"},
"font": "Open Sans",
"axis": {"labelColor": "#2a3f5f", "titleColor": "#2a3f5f", "labelFont": "Open Sans", "titleFont": "Open Sans", "labelFontSize": 12, "domain": false, "ticks": false}
}
}
